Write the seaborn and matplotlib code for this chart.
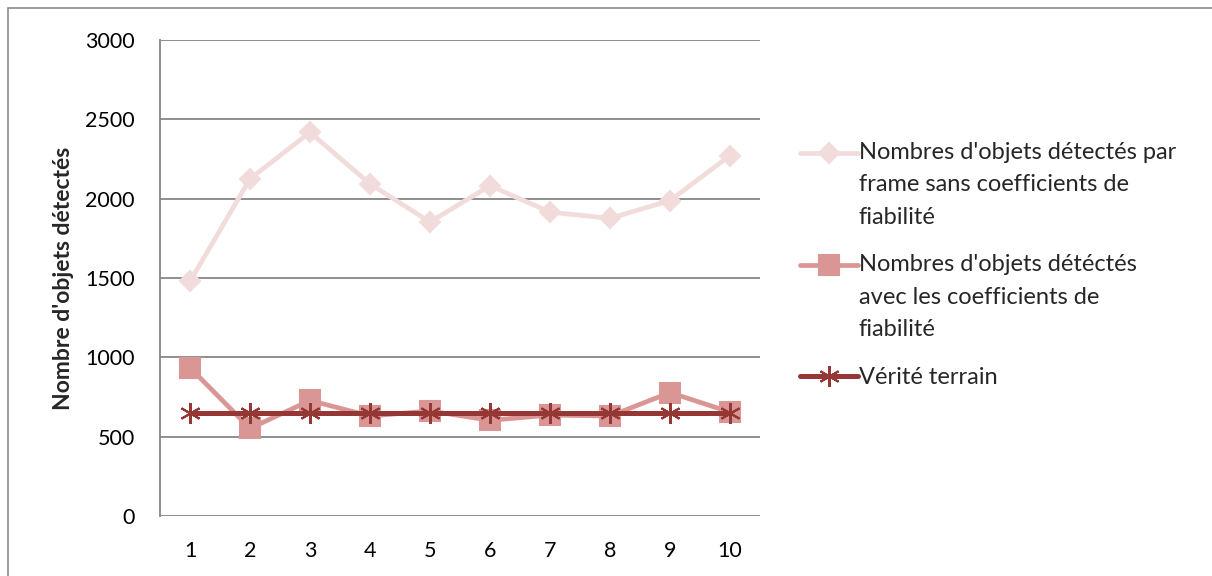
#!/usr/bin/env python3

import matplotlib.pyplot as plt
from matplotlib.legend_handler import HandlerLine2D
from matplotlib.patches import Rectangle
import seaborn as sns
import pandas as pd

# ===================== DONNÉES =====================

frames = [1, 2, 3, 4, 5, 6, 7, 8, 9, 10]
sans_coef = [1478, 2125, 2418, 2093, 1853, 2082, 1915, 1876, 1988, 2272]
avec_coef = [935, 552, 728, 630, 662, 603, 636, 630, 778, 655]
verite = [650, 650, 650, 650, 650, 650, 650, 650, 650, 650]

labels = [
    "Nombres d'objets détectés par\nframe sans coefficients de\nfiabilité",
    "Nombres d'objets détéctés\navec les coefficients de\nfiabilité",
    "Vérité terrain",
]
y_ticks = [0, 500, 1000, 1500, 2000, 2500, 3000]

LEG_FS = 17
LEG_LS = 1.68


# poignée de légende alignée sur la première ligne du texte
class TopLineHandler(HandlerLine2D):
    def __init__(self, n_lines, **kw):
        super().__init__(**kw)
        self.n_lines = n_lines

    def create_artists(self, legend, orig_handle, xdescent, ydescent,
                       width, height, fontsize, trans):
        artists = super().create_artists(legend, orig_handle, xdescent,
                                         ydescent, width, height, fontsize,
                                         trans)
        shift = (self.n_lines - 1) / 2 * fontsize * LEG_LS * 0.82
        for a in artists:
            a.set_ydata([y + shift for y in a.get_ydata()])
        return artists


# ===================== STYLE =====================

sns.set_style("white")
plt.rcParams["font.family"] = ["Lato", "DejaVu Sans"]

fig = plt.figure(figsize=(12.12, 5.76), dpi=100)
ax = fig.add_axes([160 / 1212, 1 - 516 / 576, 600 / 1212, 476 / 576])

# cadre du graphique (coin haut-gauche visible)
fig.patches.append(Rectangle((8 / 1212, -0.1), 1.1, 1 - 8 / 576 + 0.1,
                             transform=fig.transFigure, fill=False,
                             edgecolor="#8c8c8c", linewidth=1.2))

series = [
    (sans_coef, labels[0], "#F2DCDB", "D", 10, 3.4, 2),
    (avec_coef, labels[1], "#D99694", "s", 14, 3.4, 3),
    (verite, labels[2], "#953735", (6, 2, 0), 15, 3.6, 4),
]

for values, label, color, marker, msize, lw, z in series:
    df = pd.DataFrame({"frame": frames, "n": values})
    sns.lineplot(
        data=df, x="frame", y="n", ax=ax, color=color, linewidth=lw,
        marker=marker, markersize=msize, markeredgecolor=color,
        markeredgewidth=1.5, label=label, zorder=z,
    )

ax.set_xlim(0.5, 10.5)
ax.set_ylim(0, 3000)
ax.set_yticks(y_ticks)
ax.set_xticks(frames)
ax.yaxis.grid(True, color="#868686", linewidth=1.3)
ax.set_axisbelow(True)
for side in ["top", "right", "bottom"]:
    ax.spines[side].set_visible(False)
ax.spines["left"].set_color("#868686")
ax.spines["left"].set_linewidth(1.3)
ax.tick_params(axis="both", length=0, labelsize=15.5, colors="black")
ax.tick_params(axis="y", pad=18)
ax.tick_params(axis="x", pad=18)
ax.set_xlabel("")
ax.set_ylabel("Nombre d'objets détectés", fontsize=16.5, fontweight="bold",
              labelpad=8)

handles, _ = ax.get_legend_handles_labels()
leg = ax.legend(
    handles, labels,
    loc="upper left", bbox_to_anchor=(788 / 1212, 1 - 130 / 576),
    bbox_transform=fig.transFigure, frameon=False, fontsize=LEG_FS,
    handlelength=2.45, handletextpad=0.05, labelspacing=1.12, borderpad=0,
    handler_map={h: TopLineHandler(len(l.split("\n")))
                 for h, l in zip(handles, labels)},
)
for txt in leg.get_texts():
    txt.set_linespacing(LEG_LS)

fig.savefig("out.png", dpi=100)
